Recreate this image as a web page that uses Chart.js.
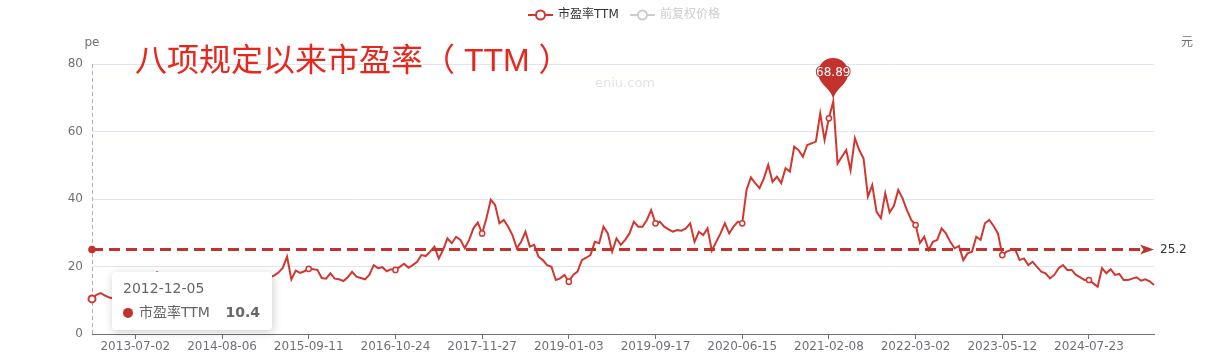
<!DOCTYPE html>
<html><head><meta charset="utf-8">
<script src="https://cdn.jsdelivr.net/npm/chart.js@4.4.1/dist/chart.umd.min.js"></script>
<style>html,body{margin:0;padding:0;background:#fff;overflow:hidden}#wrap{width:1226px;height:356px;position:relative}</style>
</head><body><div id="wrap"><canvas id="c" width="1226" height="356"></canvas></div>
<script>
// ---------------- data ----------------
const firstDate = '2012-12-05';
const tickLabels = ['2013-07-02','2014-08-06','2015-09-11','2016-10-24','2017-11-27','2019-01-03',
  '2019-09-17','2020-06-15','2021-02-08','2022-03-02','2023-05-12','2024-07-23'];
const peValues = [
  10.4, 11.6, 12.1, 11.4, 10.8, 10.5, 10.2, 10.9, 11.5, 12.2,
  12.8, 13.5, 14.4, 15.8, 17.4, 18.3, 17.3, 16.1, 15.3, 14.6,
  14.1, 13.7, 13.2, 12.9, 13.3, 12.7, 13.0, 13.5, 13.1, 13.6,
  13.9, 14.3, 14.0, 14.7, 15.1, 15.5, 15.9, 16.3, 16.0, 16.5,
  16.7, 16.8, 17.3, 18.2, 19.6, 22.9, 16.2, 18.8, 18.1, 18.6,
  19.3, 19.2, 19.0, 16.6, 16.4, 18.0, 16.4, 16.2, 15.7, 16.8,
  18.4, 17.0, 16.6, 16.2, 17.6, 20.4, 19.5, 19.8, 18.6, 19.2,
  19.0, 19.9, 20.8, 19.6, 20.4, 21.4, 23.4, 23.1, 24.4, 25.9,
  22.4, 24.9, 28.3, 26.9, 28.8, 27.9, 25.4, 27.9, 31.3, 33.0,
  29.8, 34.3, 39.8, 38.2, 32.8, 33.8, 31.8, 29.3, 25.4, 27.3,
  30.3, 25.9, 26.4, 22.9, 21.9, 20.4, 19.9, 16.0, 16.5, 17.5,
  15.5, 17.5, 18.5, 21.9, 22.6, 23.4, 27.3, 26.9, 31.8, 29.8,
  24.4, 28.3, 26.4, 27.9, 29.8, 33.3, 31.8, 31.8, 33.8, 36.7,
  32.8, 33.3, 31.8, 31.0, 30.3, 30.8, 30.6, 31.3, 32.8, 27.3,
  30.3, 29.3, 31.3, 24.7, 27.3, 29.8, 32.8, 29.8, 31.8, 33.3,
  32.8, 42.7, 46.4, 44.7, 43.2, 46.1, 50.1, 45.1, 46.6, 44.7,
  49.1, 48.1, 55.5, 54.5, 52.5, 56.0, 56.5, 57.0, 65.3, 57.5,
  63.9, 68.89, 50.5, 52.5, 54.5, 48.5, 58.0, 54.5, 52.0, 40.7,
  44.1, 36.2, 34.3, 41.7, 36.0, 38.0, 42.7, 40.2, 36.7, 33.8,
  32.3, 27.0, 28.8, 24.9, 27.3, 27.9, 31.3, 29.8, 27.3, 25.4,
  26.1, 21.9, 23.9, 24.4, 28.8, 27.9, 32.8, 33.8, 32.0, 29.8,
  23.4, 24.4, 24.9, 25.0, 21.9, 22.4, 20.4, 21.4, 19.9, 18.5,
  18.0, 16.5, 17.5, 19.5, 20.4, 19.0, 19.0, 17.5, 16.8, 16.0,
  16.0, 15.0, 14.0, 19.5, 18.0, 19.2, 17.5, 17.8, 16.0, 16.0,
  16.4, 16.8, 15.8, 16.2, 15.6, 14.5
];
const yTicks = [0, 20, 40, 60, 80];
const avgPE = 25.2;
const peakIndex = 171;
const peakLabel = '68.89';
const seriesName = '市盈率TTM';
const priceName = '前复权价格';
const titleText = '八项规定以来市盈率（ TTM ）';
const tooltipIndex = 0;
const tooltipValue = '10.4';

// ---------------- derived ----------------
const categories = peValues.map((_, i) => i === 0 ? firstDate : (i % 20 === 10 ? tickLabels[(i - 10) / 20] : ''));
const isTick = i => i % 20 === 10;

const RED = '#d2372f';
const MARK = '#c4322d';
const AXIS = '#6e7079';
const FONT = '"DejaVu Sans", "Noto Sans CJK SC", sans-serif';
Chart.defaults.font.family = FONT;

const overlay = {
  id: 'overlay',
  beforeDatasetsDraw(chart) {
    const {ctx, chartArea: a, scales: {x}} = chart;
    ctx.save();
    ctx.fillStyle = 'rgba(0,0,0,0.12)';
    ctx.font = '13px ' + FONT;
    ctx.textAlign = 'center'; ctx.textBaseline = 'middle';
    ctx.fillText('eniu.com', 625, 84);
    const px = Math.round(x.getPixelForValue(tooltipIndex)) + 0.5;
    ctx.strokeStyle = '#b0b0b0'; ctx.lineWidth = 1; ctx.setLineDash([4, 3]);
    ctx.beginPath(); ctx.moveTo(px, a.top); ctx.lineTo(px, a.bottom); ctx.stroke();
    ctx.restore();
  },
  afterDatasetsDraw(chart) {
    const {ctx, chartArea: a, scales: {x, y}} = chart;
    ctx.save();
    const my = Math.round(y.getPixelForValue(avgPE)) + 0.5;
    const arrowLen = 14, arrowW = 10;
    ctx.strokeStyle = MARK; ctx.lineWidth = 3; ctx.setLineDash([11, 6]);
    ctx.beginPath(); ctx.moveTo(a.left, my); ctx.lineTo(a.right - arrowLen + 2, my); ctx.stroke();
    ctx.setLineDash([]);
    ctx.fillStyle = MARK;
    ctx.beginPath(); ctx.arc(a.left, my, 3.8, 0, Math.PI * 2); ctx.fill();
    ctx.beginPath();
    ctx.moveTo(a.right, my);
    ctx.lineTo(a.right - arrowLen, my - arrowW / 2);
    ctx.lineTo(a.right - arrowLen * 0.75, my);
    ctx.lineTo(a.right - arrowLen, my + arrowW / 2);
    ctx.closePath(); ctx.fill();
    ctx.fillStyle = '#333';
    ctx.font = '12px ' + FONT; ctx.textAlign = 'left'; ctx.textBaseline = 'middle';
    ctx.fillText(String(avgPE), a.right + 6, my);
    const tx = x.getPixelForValue(peakIndex), ty = y.getPixelForValue(peValues[peakIndex]);
    const w = 50 / 5 * 3, h = 50, r = w / 2;
    const dy = r * r / (h - r), cy = ty - h + r + dy;
    const ang = Math.asin(dy / r), dx = Math.cos(ang) * r;
    const tanX = Math.sin(ang), tanY = Math.cos(ang), cp = r * 0.6, cp2 = r * 0.7;
    ctx.beginPath();
    ctx.moveTo(tx - dx, cy + dy);
    ctx.arc(tx, cy, r, Math.PI - ang, Math.PI * 2 + ang);
    ctx.bezierCurveTo(tx + dx - tanX * cp, cy + dy + tanY * cp, tx, ty - cp2, tx, ty);
    ctx.bezierCurveTo(tx, ty - cp2, tx - dx + tanX * cp, cy + dy + tanY * cp, tx - dx, cy + dy);
    ctx.closePath(); ctx.fillStyle = MARK; ctx.fill();
    ctx.font = '12px ' + FONT; ctx.textAlign = 'center'; ctx.textBaseline = 'middle';
    ctx.lineWidth = 2; ctx.strokeStyle = MARK; ctx.strokeText(peakLabel, tx, cy);
    ctx.fillStyle = '#fff'; ctx.fillText(peakLabel, tx, cy);
    ctx.restore();
  },
  afterDraw(chart) {
    const {ctx, scales: {x, y}} = chart;
    ctx.save();
    ctx.fillStyle = '#e8261c';
    ctx.font = '32px "Liberation Sans", "Noto Sans CJK SC", sans-serif';
    ctx.textAlign = 'left'; ctx.textBaseline = 'middle';
    ctx.fillText(titleText, 135, 62);
    ctx.fillStyle = AXIS; ctx.font = '12px ' + FONT; ctx.textAlign = 'center';
    ctx.fillText('pe', 92, 43);
    ctx.fillText('元', 1187, 43);
    const ly = 15;
    ctx.lineWidth = 2;
    ctx.strokeStyle = RED;
    ctx.beginPath(); ctx.moveTo(528, ly); ctx.lineTo(553, ly); ctx.stroke();
    ctx.fillStyle = '#fff';
    ctx.beginPath(); ctx.arc(540.5, ly, 4.5, 0, Math.PI * 2); ctx.fill(); ctx.stroke();
    ctx.strokeStyle = '#ccc';
    ctx.beginPath(); ctx.moveTo(630, ly); ctx.lineTo(655, ly); ctx.stroke();
    ctx.beginPath(); ctx.arc(642.5, ly, 4.5, 0, Math.PI * 2); ctx.fill(); ctx.stroke();
    ctx.textAlign = 'left';
    ctx.fillStyle = '#333'; ctx.fillText(seriesName, 558, ly);
    ctx.fillStyle = '#ccc'; ctx.fillText(priceName, 660, ly);
    const px = x.getPixelForValue(tooltipIndex), py = y.getPixelForValue(peValues[tooltipIndex]);
    const bx = px + 20, by = py - 27, bw = 160, bh = 58;
    ctx.save();
    ctx.shadowColor = 'rgba(0,0,0,0.2)'; ctx.shadowBlur = 10; ctx.shadowOffsetX = 1; ctx.shadowOffsetY = 2;
    ctx.fillStyle = '#fff';
    ctx.beginPath(); ctx.roundRect(bx, by, bw, bh, 4); ctx.fill();
    ctx.restore();
    ctx.fillStyle = '#666'; ctx.font = '14px ' + FONT; ctx.textBaseline = 'middle'; ctx.textAlign = 'left';
    ctx.fillText(categories[tooltipIndex], bx + 11, by + 17);
    ctx.fillStyle = MARK;
    ctx.beginPath(); ctx.arc(bx + 16, by + 41, 5, 0, Math.PI * 2); ctx.fill();
    ctx.fillStyle = '#666';
    ctx.fillText(seriesName, bx + 27, by + 41);
    ctx.font = 'bold 14px ' + FONT; ctx.textAlign = 'right';
    ctx.fillText(tooltipValue, bx + bw - 12, by + 41);
    ctx.restore();
  }
};

new Chart(document.getElementById('c'), {
  type: 'line',
  data: {
    labels: categories,
    datasets: [{
      label: seriesName,
      data: peValues,
      borderColor: RED,
      borderWidth: 2,
      tension: 0,
      pointRadius: c => c.dataIndex === tooltipIndex ? 3.5 : (isTick(c.dataIndex) ? 2.6 : 0),
      pointBorderWidth: c => c.dataIndex === tooltipIndex ? 2 : 1.5,
      pointBackgroundColor: '#fff',
      pointBorderColor: RED,
      fill: false
    }]
  },
  options: {
    responsive: false,
    animation: false,
    events: [],
    layout: { padding: { left: 0, right: 72, top: 64, bottom: 0 } },
    plugins: { legend: { display: false }, tooltip: { enabled: false } },
    scales: {
      x: {
        type: 'category',
        offset: false,
        grid: { display: true, drawOnChartArea: false, drawTicks: true, tickLength: 5,
          color: c => isTick(c.index) ? AXIS : 'rgba(0,0,0,0)' },
        border: { display: true, color: AXIS, width: 1 },
        ticks: { autoSkip: false, maxRotation: 0, minRotation: 0, padding: 1, color: AXIS,
          font: { size: 12, family: FONT },
          callback: function (v, i) { return isTick(i) ? this.getLabelForValue(v) : ''; } },
        afterFit: s => { s.height = 22; }
      },
      y: {
        min: yTicks[0], max: yTicks[yTicks.length - 1],
        afterBuildTicks: s => { s.ticks = yTicks.map(v => ({ value: v })); },
        grid: { color: '#e0e6f1', drawTicks: false, lineWidth: 1 },
        border: { display: false },
        ticks: { padding: 9, color: AXIS, font: { size: 12, family: FONT } },
        afterFit: s => { s.width = 92; }
      }
    }
  },
  plugins: [overlay]
});
</script>
</body></html>
